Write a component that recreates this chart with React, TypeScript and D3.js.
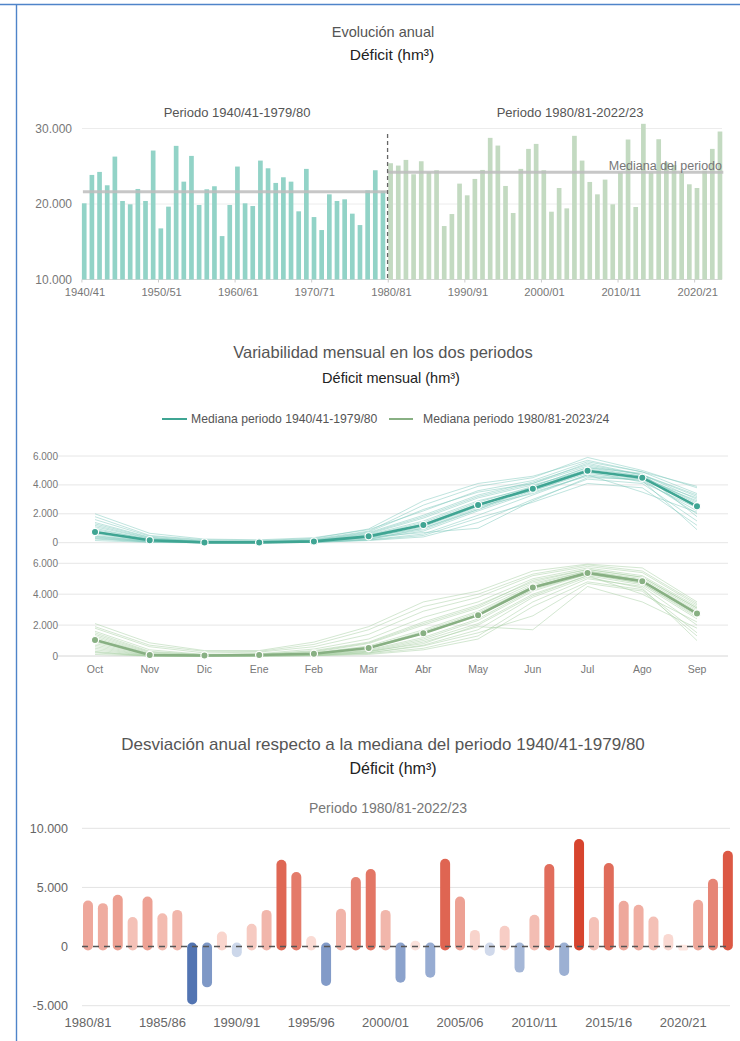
import React from "react";
import * as d3 from "d3";

const FONT = "'Liberation Sans', Arial, Helvetica, sans-serif";

// ---------- Data ----------
const hydroYears: string[] = d3
  .range(1940, 2024)
  .map((y) => `${y}/${String((y + 1) % 100).padStart(2, "0")}`);

// Annual deficit (hm³) 1940/41-1979/80
const period1Values = [
  20090, 23850, 24250, 22480, 26280, 20400, 19960, 21990, 20400, 27080,
  16770, 19650, 27700, 22960, 26370, 19870, 21950, 22350, 15750, 19870,
  24960, 20090, 19730, 25750, 24730, 22790, 23540, 22960, 19030, 24650,
  18270, 16550, 21280, 20400, 20620, 18720, 17210, 21810, 24470, 21730,
];
// Annual deficit (hm³) 1980/81-2023/24
const period2Values = [
  25400, 25090, 25840, 23940, 25660, 24200, 24470, 17080, 18670, 22700,
  21150, 23320, 24510, 28760, 27740, 22390, 18810, 24650, 27300, 27960,
  24470, 18980, 22120, 19420, 29030, 25750, 22920, 21280, 23230, 19960,
  24160, 28540, 19600, 30620, 24160, 28580, 25500, 25160, 24170, 22610,
  22120, 24420, 27300, 29600,
];
const period1Median = 21630;
const period2Median = 24210;
const annualTicks = [10000, 20000, 30000];
const annualLabelYears = [
  "1940/41", "1950/51", "1960/61", "1970/71", "1980/81",
  "1990/91", "2000/01", "2010/11", "2020/21",
];

// Monthly deficit
const months = ["Oct", "Nov", "Dic", "Ene", "Feb", "Mar", "Abr", "May", "Jun", "Jul", "Ago", "Sep"];
const monthlyMedian1 = [740, 165, 20, 20, 90, 440, 1225, 2610, 3740, 4980, 4500, 2520];
const monthlyMedian2 = [1030, 65, 30, 65, 150, 515, 1480, 2645, 4430, 5380, 4840, 2750];
const monthlyYears1 = [
  [740, 160, 20, 20, 90, 430, 1200, 2600, 3700, 4950, 4500, 2500],
  [2000, 650, 250, 200, 350, 900, 2200, 3600, 4300, 5600, 4900, 3400],
  [300, 50, 0, 0, 30, 200, 600, 1900, 3300, 4700, 4300, 2200],
  [1200, 300, 60, 40, 150, 650, 1800, 3200, 4100, 5300, 4700, 3000],
  [500, 100, 10, 10, 60, 300, 900, 2300, 3600, 4800, 4400, 2000],
  [1600, 450, 150, 120, 250, 800, 2600, 3900, 4500, 5900, 5000, 3800],
  [150, 20, 0, 0, 20, 150, 400, 1400, 3000, 4400, 4100, 1500],
  [900, 250, 40, 30, 120, 550, 1500, 2900, 3800, 5100, 4600, 2700],
  [400, 80, 10, 10, 50, 250, 800, 2200, 3500, 4600, 4300, 900],
  [1000, 200, 30, 30, 100, 500, 1400, 2800, 3900, 5200, 4600, 2800],
  [600, 120, 20, 20, 80, 400, 1000, 2400, 3700, 4900, 4200, 2400],
  [1800, 500, 200, 150, 300, 950, 2900, 4100, 4600, 5700, 4900, 3900],
  [250, 40, 0, 0, 30, 180, 500, 1700, 2800, 4100, 3800, 1200],
  [1300, 350, 80, 60, 180, 700, 1900, 3300, 4200, 5400, 4700, 3200],
  [700, 140, 20, 20, 90, 450, 1300, 2700, 3600, 4900, 4500, 2600],
  [450, 90, 10, 10, 70, 350, 1100, 2500, 3400, 4700, 3500, 2100],
  [1100, 280, 50, 40, 140, 600, 1700, 3100, 4000, 5000, 4400, 2900],
  [800, 180, 30, 20, 100, 380, 700, 1000, 2900, 4500, 4400, 3100],
  [350, 60, 0, 0, 40, 220, 1000, 2300, 3900, 5200, 4800, 1800],
  [1400, 380, 100, 80, 200, 750, 2300, 3500, 4100, 5500, 4700, 3300],
];
const monthlyYears2 = [
  [1000, 60, 30, 60, 150, 500, 1450, 2600, 4400, 5350, 4800, 2700],
  [2100, 850, 350, 350, 900, 1900, 3500, 4200, 5500, 5950, 5700, 3500],
  [200, 0, 0, 0, 20, 150, 500, 1300, 3500, 5000, 4500, 2000],
  [1500, 300, 80, 100, 350, 900, 2200, 3300, 4800, 5600, 5100, 3100],
  [600, 30, 10, 20, 80, 300, 1000, 2100, 4000, 5200, 4600, 2400],
  [1800, 600, 200, 250, 600, 1400, 2900, 3800, 5200, 5800, 5400, 3300],
  [400, 10, 0, 10, 50, 200, 700, 1700, 3800, 5100, 4400, 1000],
  [1200, 150, 40, 80, 200, 650, 1700, 2900, 4600, 5500, 4900, 2900],
  [800, 80, 20, 40, 120, 400, 1200, 2400, 4300, 5300, 4700, 2600],
  [300, 0, 0, 0, 30, 250, 900, 1900, 1700, 4500, 3500, 1800],
  [1600, 400, 100, 150, 450, 1100, 2500, 3500, 5000, 5700, 5200, 3200],
  [900, 100, 30, 50, 160, 550, 1600, 2800, 4500, 5400, 4900, 2800],
  [100, 0, 0, 0, 20, 100, 400, 1100, 3200, 4800, 4300, 1500],
  [1300, 200, 60, 90, 250, 800, 2000, 3100, 4700, 5500, 5000, 3000],
  [700, 50, 20, 30, 100, 350, 1100, 2300, 4200, 5300, 4700, 2500],
  [1900, 700, 300, 300, 750, 1700, 3200, 4000, 5300, 5900, 5500, 3400],
  [500, 20, 10, 20, 70, 300, 800, 2000, 3900, 5200, 4000, 2200],
  [1100, 120, 40, 70, 180, 600, 1500, 2700, 4500, 5400, 4900, 2750],
  [250, 0, 0, 0, 40, 200, 650, 1500, 2600, 4700, 4200, 1300],
  [1400, 250, 80, 120, 300, 850, 2100, 3200, 4900, 5600, 5100, 3100],
];
const monthlyTicks = [0, 2000, 4000, 6000];

// Deviation from 1940/41-1979/80 median
const deviationYears = hydroYears.slice(40);
const deviationValues = [
  3900, 3670, 4380, 2490, 4240, 2820, 3100, -4900, -3450, 1270,
  -900, 1920, 3100, 7340, 6300, 900, -3330, 3190, 5880, 6550,
  3100, -3050, 500, -2630, 7430, 4240, 1410, -790, 1750, -2200,
  2680, 6980, -2490, 9100, 2490, 7060, 3870, 3530, 2540, 1070,
  150, 3950, 5730, 8100,
];
const deviationTicks = [-5000, 0, 5000, 10000];
const deviationLabelYears = [
  "1980/81", "1985/86", "1990/91", "1995/96", "2000/01",
  "2005/06", "2010/11", "2015/16", "2020/21",
];

const locale = d3.formatLocale({
  decimal: ",",
  thousands: ".",
  grouping: [3],
  currency: ["", "€"],
  minus: "-",
});
const fmt = locale.format(",.0f");

export default function App() {
  // ---------- Top chart scales ----------
  const xA = d3
    .scaleBand<string>()
    .domain(hydroYears)
    .range([80.4, 723.8])
    .paddingInner(0.39)
    .paddingOuter(0.195);
  const yA = d3.scaleLinear().domain([10000, 30000]).range([279.5, 128.5]);
  const annualData = hydroYears.map((y, i) => ({
    year: y,
    value: i < 40 ? period1Values[i] : period2Values[i - 40],
    p: i < 40 ? 1 : 2,
  }));
  const bwA = xA.bandwidth();
  const splitX = ((xA("1979/80") as number) + bwA + (xA("1980/81") as number)) / 2 + 0.8;

  // ---------- Middle chart scales ----------
  const xM = d3.scalePoint<string>().domain(months).range([95, 697]);
  const yM1 = d3.scaleLinear().domain([0, 6000]).range([542.7, 456]);
  const yM2 = d3.scaleLinear().domain([0, 6000]).range([656, 563.3]);
  const line1 = d3
    .line<number>()
    .x((_, i) => xM(months[i]) as number)
    .y((d) => yM1(d));
  const line2 = d3
    .line<number>()
    .x((_, i) => xM(months[i]) as number)
    .y((d) => yM2(d));

  // ---------- Bottom chart scales ----------
  const xD = d3
    .scaleBand<string>()
    .domain(deviationYears)
    .range([80.56, 735.3])
    .paddingInner(0.33)
    .paddingOuter(0.165);
  const yD = d3.scaleLinear().domain([-5000, 10000]).range([1005.7, 828.3]);
  const posMax = d3.max(deviationValues) as number;
  const negMin = d3.min(deviationValues) as number;
  const posColor = d3.interpolateRgb("#fde8e2", "#d7442e");
  const negColor = d3.interpolateRgb("#e8edf6", "#5274b2");
  const devColor = (v: number) =>
    v >= 0 ? posColor(Math.pow(v / posMax, 1.1)) : negColor(Math.pow(v / negMin, 1.0));
  const bwD = xD.bandwidth();

  const teal = "#3fa593";
  const tealLight = "#7fcabd";
  const green = "#88b083";
  const greenLight = "#a8cfa3";

  return (
    <svg
      width={740}
      height={1041}
      style={{ position: "absolute", left: 0, top: 0, background: "#fff" }}
      fontFamily={FONT}
    >
      <rect x={0} y={0} width={740} height={1041} fill="#fff" />
      {/* frame */}
      <path d="M0,4.5H740M16.5,4.5V1041" stroke="#4f84c9" strokeWidth={1.4} fill="none" />

      {/* ================= TOP CHART ================= */}
      <text x={383} y={37} textAnchor="middle" fontSize={14.5} fill="#555">
        Evolución anual
      </text>
      <text x={392} y={60} textAnchor="middle" fontSize={15.5} fill="#222">
        Déficit (hm³)
      </text>
      <text x={237} y={117} textAnchor="middle" fontSize={13} fill="#555">
        Periodo 1940/41-1979/80
      </text>
      <text x={570} y={117} textAnchor="middle" fontSize={13} fill="#555">
        Periodo 1980/81-2022/23
      </text>

      {annualTicks.map((t) => (
        <g key={t}>
          <line
            x1={82}
            x2={722}
            y1={yA(t)}
            y2={yA(t)}
            stroke={t === 10000 ? "#d6d6d6" : "#ececec"}
            strokeWidth={1}
          />
          <text x={72} y={yA(t)} dy="0.35em" textAnchor="end" fontSize={12} fill="#777">
            {fmt(t)}
          </text>
        </g>
      ))}
      {annualData.map((d) => (
        <rect
          key={d.year}
          x={xA(d.year)}
          y={yA(d.value)}
          width={bwA}
          height={yA(10000) - yA(d.value)}
          fill={d.p === 1 ? "#92d3c7" : "#c3dac1"}
        />
      ))}
      {/* medians */}
      <line
        x1={(xA("1940/41") as number) + 1}
        x2={splitX}
        y1={yA(period1Median)}
        y2={yA(period1Median)}
        stroke="#bdbdbd"
        strokeOpacity={0.85}
        strokeWidth={3}
      />
      <line
        x1={splitX}
        x2={(xA("2023/24") as number) + bwA + 1}
        y1={yA(period2Median)}
        y2={yA(period2Median)}
        stroke="#bdbdbd"
        strokeOpacity={0.85}
        strokeWidth={3}
      />
      <text x={722} y={170} textAnchor="end" fontSize={12.5} fill="#777">
        Mediana del periodo
      </text>
      <line
        x1={splitX}
        x2={splitX}
        y1={134}
        y2={yA(10000)}
        stroke="#666"
        strokeWidth={1.3}
        strokeDasharray="4,3"
      />
      {annualLabelYears.map((y) => (
        <g key={y}>
          <line
            x1={xA(y) as number}
            x2={xA(y) as number}
            y1={yA(10000)}
            y2={yA(10000) + 3}
            stroke="#ccc"
          />
          <text
            x={(xA(y) as number) + bwA / 2 + 0.8}
            y={296}
            textAnchor="middle"
            fontSize={11.2}
            fill="#777"
          >
            {y}
          </text>
        </g>
      ))}

      {/* ================= MIDDLE CHART ================= */}
      <text x={383} y={358} textAnchor="middle" fontSize={16.5} fill="#555">
        Variabilidad mensual en los dos periodos
      </text>
      <text x={391} y={383} textAnchor="middle" fontSize={14.5} fill="#222">
        Déficit mensual (hm³)
      </text>
      {/* legend */}
      <line x1={162} x2={187} y1={419} y2={419} stroke={teal} strokeWidth={2} />
      <text x={191} y={419} dy="0.35em" fontSize={12.2} fill="#555">
        Mediana periodo 1940/41-1979/80
      </text>
      <line x1={389} x2={413} y1={419} y2={419} stroke={green} strokeWidth={2} />
      <text x={423} y={419} dy="0.35em" fontSize={12.2} fill="#555">
        Mediana periodo 1980/81-2023/24
      </text>

      {monthlyTicks.map((t) => (
        <g key={"m1" + t}>
          <line x1={57} x2={728} y1={yM1(t)} y2={yM1(t)} stroke="#e6e6e6" />
          <text x={58} y={yM1(t)} dy="0.35em" textAnchor="end" fontSize={10} fill="#777">
            {fmt(t)}
          </text>
        </g>
      ))}
      {monthlyTicks.map((t) => (
        <g key={"m2" + t}>
          <line
            x1={57}
            x2={728}
            y1={yM2(t)}
            y2={yM2(t)}
            stroke={t === 0 ? "#d6d6d6" : "#e6e6e6"}
          />
          <text x={58} y={yM2(t)} dy="0.35em" textAnchor="end" fontSize={10} fill="#777">
            {fmt(t)}
          </text>
        </g>
      ))}
      {monthlyYears1.map((row, i) => (
        <path
          key={"y1" + i}
          d={line1(row) as string}
          fill="none"
          stroke={tealLight}
          strokeOpacity={0.5}
          strokeWidth={1}
        />
      ))}
      <path d={line1(monthlyMedian1) as string} fill="none" stroke={teal} strokeWidth={2.6} />
      {monthlyMedian1.map((v, i) => (
        <circle
          key={"c1" + i}
          cx={xM(months[i]) as number}
          cy={yM1(v)}
          r={3.6}
          fill={teal}
          stroke="#fff"
          strokeWidth={1.2}
        />
      ))}
      {monthlyYears2.map((row, i) => (
        <path
          key={"y2" + i}
          d={line2(row) as string}
          fill="none"
          stroke={greenLight}
          strokeOpacity={0.5}
          strokeWidth={1}
        />
      ))}
      <path d={line2(monthlyMedian2) as string} fill="none" stroke={green} strokeWidth={2.6} />
      {monthlyMedian2.map((v, i) => (
        <circle
          key={"c2" + i}
          cx={xM(months[i]) as number}
          cy={yM2(v)}
          r={3.6}
          fill={green}
          stroke="#fff"
          strokeWidth={1.2}
        />
      ))}
      {months.map((m) => (
        <text
          key={m}
          x={xM(m) as number}
          y={673}
          textAnchor="middle"
          fontSize={10.5}
          fill="#777"
        >
          {m}
        </text>
      ))}

      {/* ================= BOTTOM CHART ================= */}
      <text x={383} y={750} textAnchor="middle" fontSize={17} fill="#555">
        Desviación anual respecto a la mediana del periodo 1940/41-1979/80
      </text>
      <text x={393} y={774} textAnchor="middle" fontSize={16} fill="#222">
        Déficit (hm³)
      </text>
      <text x={388} y={813} textAnchor="middle" fontSize={14} fill="#777">
        Periodo 1980/81-2022/23
      </text>
      {deviationTicks.map((t) => (
        <g key={"d" + t}>
          {t !== 0 && (
            <line x1={82} x2={730} y1={yD(t)} y2={yD(t)} stroke="#e3e3e3" />
          )}
          <text x={68} y={yD(t)} dy="0.35em" textAnchor="end" fontSize={12.5} fill="#666">
            {fmt(t)}
          </text>
        </g>
      ))}
      {deviationYears.map((y, i) => {
        const v = deviationValues[i];
        const x = xD(y) as number;
        const top = v >= 0 ? yD(v) : yD(0) - 4;
        const bottom = v >= 0 ? yD(0) + 4 : yD(v);
        const h = bottom - top;
        const r = Math.min(bwD / 2, h / 2);
        return (
          <rect
            key={y}
            x={x}
            y={top}
            width={bwD}
            height={h}
            rx={r}
            ry={r}
            fill={devColor(v)}
          />
        );
      })}
      <line
        x1={82}
        x2={730}
        y1={yD(0)}
        y2={yD(0)}
        stroke="#555"
        strokeWidth={1.4}
        strokeDasharray="6,5"
      />
      {deviationLabelYears.map((y) => (
        <text
          key={"dl" + y}
          x={(xD(y) as number) + bwD / 2}
          y={1027}
          textAnchor="middle"
          fontSize={13}
          fill="#666"
        >
          {y}
        </text>
      ))}
    </svg>
  );
}
